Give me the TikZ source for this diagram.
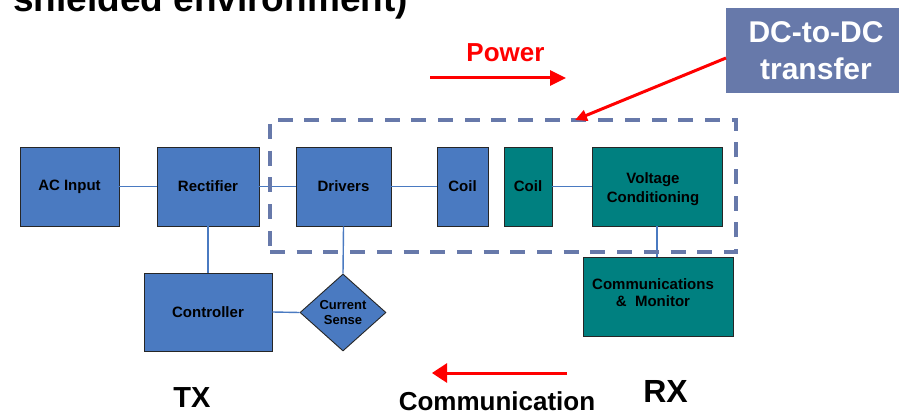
\documentclass[tikz,border=0pt]{standalone}
\usepackage{fontspec}
\setmainfont{Liberation Sans}
\usetikzlibrary{shapes.geometric,arrows.meta}

\definecolor{boxblue}{RGB}{74,122,193}
\definecolor{rxteal}{RGB}{0,128,128}
\definecolor{slate}{RGB}{103,121,170}
\definecolor{arrowred}{RGB}{255,0,0}

\tikzset{
  blk/.style={draw=black!85, line width=0.9pt, fill=boxblue, inner sep=0pt,
    align=center, font=\fontsize{15}{19}\selectfont\bfseries},
  rxblk/.style={blk, fill=rxteal},
  link/.style={draw=boxblue, line width=1.4pt},
  flow/.style={draw=arrowred, line width=3pt},
  bigtxt/.style={inner sep=0pt, font=\fontsize{26}{31}\selectfont\bfseries},
  sidetxt/.style={inner sep=0pt, font=\fontsize{32}{38}\selectfont\bfseries},
}

\begin{document}
\begin{tikzpicture}[x=1pt,y=-1pt]
\useasboundingbox (0,0) rectangle (899,414);
\clip (0,0) rectangle (899,414);

% heading, running off the top edge
\node[anchor=base west, inner sep=0pt, font=\fontsize{37}{44}\selectfont\bfseries]
  (heading) at (13,12) {shielded environment)};

% transmitter chain
\node[blk, minimum width=99pt, minimum height=79pt] (acin) at (69.5,186.5) {AC Input};
\node[blk, minimum width=102pt, minimum height=79pt] (rect) at (208,186.5) {Rectifier};
\node[blk, minimum width=95pt, minimum height=79pt] (drv) at (343.5,186.5) {Drivers};
\node[blk, minimum width=51pt, minimum height=79pt] (coiltx) at (462.5,186.5) {Coil};
\node[blk, minimum width=128pt, minimum height=78pt] (ctrl) at (208,312) {Controller};
\node[blk, shape=diamond, minimum width=86pt, minimum height=77pt,
  font=\fontsize{13}{15}\selectfont\bfseries] (sense) at (343,312.5) {Current\\Sense};

% receiver chain
\node[rxblk, minimum width=48pt, minimum height=79pt] (coilrx) at (528,186.5) {Coil};
\node[rxblk, minimum width=130pt, minimum height=79pt] (volt) at (657,186.5) {};
\node[inner sep=0pt, align=center, font=\fontsize{15}{19}\selectfont\bfseries]
  (voltlbl) at (653,189) {Voltage\\Conditioning};
\node[rxblk, minimum width=150pt, minimum height=79pt] (comm) at (658,296.5) {};
\node[inner sep=0pt, align=center, font=\fontsize{15}{17}\selectfont\bfseries]
  (commlbl) at (653,293) {Communications\\\&~~Monitor};

% connections
\draw[link] (acin.east) -- (rect.west);
\draw[link] (rect.east) -- (drv.west);
\draw[link] (drv.east) -- (coiltx.west);
\draw[link] (coilrx.east) -- (volt.west);
\draw[link] (rect.south) -- (ctrl.north);
\draw[link] (drv.south) -- (sense.north);
\draw[link] (ctrl.east) -- (sense.west);
\draw[link] (volt.south) -- (volt.south |- comm.north);

% DC-to-DC region
\node[draw=slate, line width=4pt, dash pattern=on 15pt off 11.7pt,
  minimum width=466pt, minimum height=132pt, inner sep=0pt] (zone) at (503,186) {};
\node[fill=slate, minimum width=180pt, minimum height=85pt, inner sep=0pt,
  align=center, text=white, font=\fontsize{30}{37}\selectfont\bfseries]
  (dcbox) at (816,50.5) {DC-to-DC\\transfer};
\coordinate (dcfrom) at (726,58);
\coordinate (dcto) at (575,120);
\draw[flow, -{Triangle[length=12pt,width=11pt]}] (dcfrom) -- (dcto);

% direction of power and data
\node[bigtxt, text=arrowred, anchor=base] (powlbl) at (505.5,62) {Power};
\coordinate (powA) at (430,78);
\coordinate (powB) at (566,78);
\draw[flow, -{Triangle[length=16pt,width=15pt]}] (powA) -- (powB);

\coordinate (comA) at (567,373);
\coordinate (comB) at (432,373);
\draw[flow, -{Triangle[length=15pt,width=19pt]}] (comA) -- (comB);
\node[bigtxt, anchor=base] (comlbl) at (497,410) {Communication};

\node[sidetxt, anchor=base, font=\fontsize{29}{35}\selectfont\bfseries]
  (txlbl) at (192,407) {TX};
\node[sidetxt, anchor=base] (rxlbl) at (665.5,402) {RX};
\end{tikzpicture}
\end{document}
